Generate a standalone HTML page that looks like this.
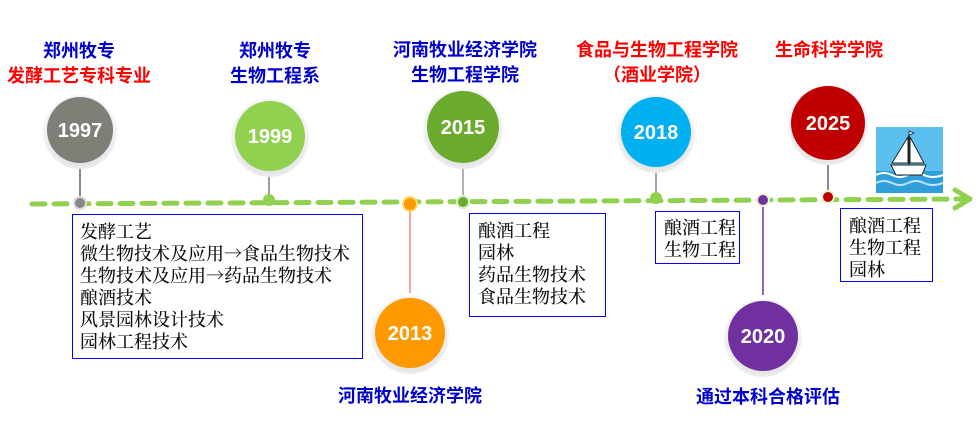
<!DOCTYPE html>
<html><head><meta charset="utf-8"><style>
html,body{margin:0;padding:0;background:#fff;width:980px;height:427px;overflow:hidden}
svg{display:block}
.t{font-family:"Liberation Sans","Noto Sans CJK SC",sans-serif;font-weight:bold;font-size:18px;text-anchor:middle}
.y{font-family:"Liberation Sans","Noto Sans CJK SC",sans-serif;font-weight:bold;font-size:20px;fill:#fff;text-anchor:middle}
.b{font-family:"Noto Serif CJK SC",serif;font-size:18px;fill:#111;font-weight:500}
</style></head><body>
<svg width="980" height="427" viewBox="0 0 980 427">
<defs>
<radialGradient id="h" cx="50%" cy="55%" r="50%"><stop offset="80%" stop-color="#e6e6e6"/><stop offset="100%" stop-color="#f4f4f4"/></radialGradient>
</defs>
<line x1="32" y1="204" x2="965" y2="199" stroke="#92d050" stroke-width="5" stroke-dasharray="13,9" stroke-linecap="round"/>
<polyline points="955,190 970,199 955,208" fill="none" stroke="#92d050" stroke-width="5" stroke-linecap="round" stroke-linejoin="round"/>
<line x1="80" y1="165" x2="80" y2="203" stroke="#666" stroke-width="1.5"/>
<line x1="269" y1="170" x2="269" y2="200" stroke="#8a7a6a" stroke-width="1.5"/>
<line x1="463" y1="163" x2="463" y2="201" stroke="#999" stroke-width="1.5"/>
<line x1="656" y1="168" x2="656" y2="198" stroke="#888" stroke-width="1.5"/>
<line x1="828" y1="160" x2="828" y2="197" stroke="#666" stroke-width="1.5"/>
<line x1="410" y1="204" x2="410" y2="293" stroke="#f0a8a0" stroke-width="2"/>
<line x1="763" y1="201" x2="763" y2="295" stroke="#7030a0" stroke-width="1.5"/>
<circle cx="80" cy="203" r="7" fill="#ddd"/><circle cx="80" cy="203" r="5" fill="#888"/>
<circle cx="269" cy="200" r="6" fill="#92d050"/>
<circle cx="410" cy="204" r="8" fill="#ffd966"/><circle cx="410" cy="204" r="6" fill="#ff9900"/>
<circle cx="463" cy="202" r="7" fill="#d9efc5"/><circle cx="463" cy="202" r="5" fill="#6aab2e"/>
<circle cx="656" cy="198" r="6" fill="#92d050"/>
<circle cx="763" cy="200" r="7" fill="#eef6d8"/><circle cx="763" cy="200" r="5" fill="#7030a0"/>
<circle cx="828" cy="197" r="7" fill="#e8f3d4"/><circle cx="828" cy="197" r="5" fill="#c00000"/>
<circle cx="80" cy="132" r="37" fill="url(#h)"/><circle cx="80" cy="130" r="33" fill="#7f7f77"/><text class="y" x="80" y="137">1997</text>
<circle cx="270" cy="138" r="39" fill="url(#h)"/><circle cx="270" cy="136" r="35" fill="#92d050"/><text class="y" x="270" y="143">1999</text>
<circle cx="463" cy="129" r="40" fill="url(#h)"/><circle cx="463" cy="127" r="36" fill="#6aab2e"/><text class="y" x="463" y="134">2015</text>
<circle cx="656" cy="134" r="39" fill="url(#h)"/><circle cx="656" cy="132" r="35" fill="#00b0f0"/><text class="y" x="656" y="139">2018</text>
<circle cx="828" cy="125" r="40" fill="url(#h)"/><circle cx="828" cy="123" r="37" fill="#c00000"/><text class="y" x="828" y="130">2025</text>
<circle cx="410" cy="335" r="39" fill="url(#h)"/><circle cx="410" cy="333" r="35" fill="#ff9900"/><text class="y" x="410" y="340">2013</text>
<circle cx="763" cy="338" r="39" fill="url(#h)"/><circle cx="763" cy="336" r="35" fill="#7030a0"/><text class="y" x="763" y="343">2020</text>
<text class="t" x="79" y="57" fill="#0000cc">郑州牧专</text>
<text class="t" x="79" y="82" fill="#ff0000">发酵工艺专科专业</text>
<text class="t" x="275" y="57" fill="#0000cc">郑州牧专</text>
<text class="t" x="275" y="82" fill="#0000cc">生物工程系</text>
<text class="t" x="465" y="56" fill="#0000cc">河南牧业经济学院</text>
<text class="t" x="465" y="81" fill="#0000cc">生物工程学院</text>
<text class="t" x="657" y="56" fill="#ff0000">食品与生物工程学院</text>
<text class="t" x="657" y="81" fill="#ff0000">（酒业学院）</text>
<text class="t" x="829" y="56" fill="#ff0000">生命科学学院</text>
<text class="t" x="410" y="402" fill="#0000cc">河南牧业经济学院</text>
<text class="t" x="768" y="403" fill="#0000cc">通过本科合格评估</text>
<rect x="72.5" y="214.5" width="290" height="144" fill="#fff" stroke="#0000ff" stroke-width="1"/>
<text class="b" x="80" y="238">发酵工艺</text>
<text class="b" x="80" y="260">微生物技术及应用→食品生物技术</text>
<text class="b" x="80" y="282">生物技术及应用→药品生物技术</text>
<text class="b" x="80" y="304">酿酒技术</text>
<text class="b" x="80" y="326">风景园林设计技术</text>
<text class="b" x="80" y="348">园林工程技术</text>
<rect x="469.5" y="213.5" width="136" height="103" fill="#fff" stroke="#0000ff" stroke-width="1"/>
<text class="b" x="478" y="237">酿酒工程</text>
<text class="b" x="478" y="259">园林</text>
<text class="b" x="478" y="281">药品生物技术</text>
<text class="b" x="478" y="303">食品生物技术</text>
<rect x="655.5" y="211.5" width="84" height="52" fill="#fff" stroke="#0000ff" stroke-width="1"/>
<text class="b" x="664" y="234">酿酒工程</text>
<text class="b" x="664" y="256">生物工程</text>
<rect x="840.5" y="208.5" width="92" height="73" fill="#fff" stroke="#0000ff" stroke-width="1"/>
<text class="b" x="849" y="232">酿酒工程</text>
<text class="b" x="849" y="254">生物工程</text>
<text class="b" x="849" y="276">园林</text>
<g transform="translate(876,127)">
<rect width="67" height="66" fill="#5bc0ef"/>
<rect y="44" width="67" height="22" fill="#2e9fd9"/>
<path d="M0 48 q8 -4 16 0 t16 0 t16 0 t19 0" fill="none" stroke="#fff" stroke-width="2"/>
<path d="M0 56 q8 -4 16 0 t16 0 t16 0 t19 0" fill="none" stroke="#bde6fa" stroke-width="2"/>
<path d="M15 38 L50 38 L46 48 L20 48 Z" fill="#fff" stroke="#222" stroke-width="1"/>
<line x1="33" y1="8" x2="33" y2="38" stroke="#222" stroke-width="1.2"/>
<path d="M32 10 L16 36 L32 36 Z" fill="#fff" stroke="#222" stroke-width="1"/>
<path d="M34 10 L48 36 L34 36 Z" fill="#fff" stroke="#222" stroke-width="1"/>
<path d="M33 8 L38 6 L33 4 Z" fill="#fff" stroke="#222" stroke-width="0.8"/>
</g>
</svg>
</body></html>
